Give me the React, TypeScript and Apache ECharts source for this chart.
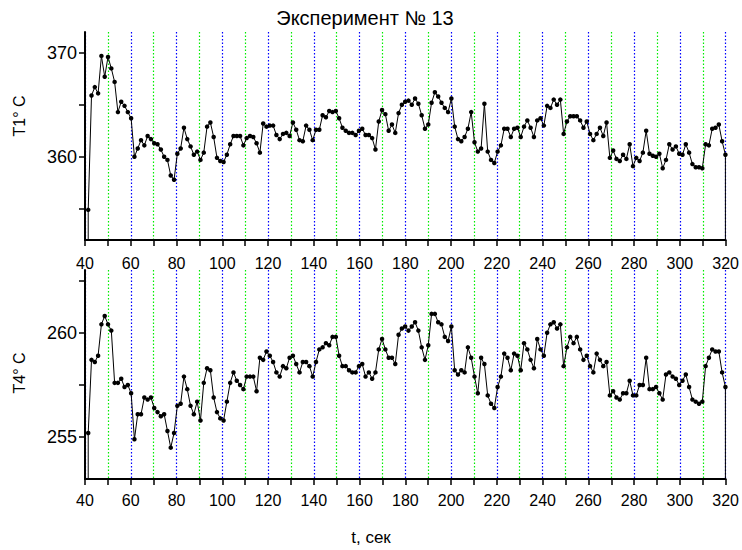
import React, { useEffect, useRef } from "react";
import * as echarts from "echarts";

// Sampling of the recorder (seconds)
const T_START = 41.4;
const T_STEP = 1.443;

// T1, °C
const T1 = [
  354.9, 365.9, 366.7, 366.1, 369.7, 367.7, 369.6, 368.5, 367.2, 364.3,
  365.3, 364.9, 364.3, 363.7, 360.0, 360.8, 361.6, 361.1, 362.0, 361.7,
  361.3, 361.2, 360.7, 360.0, 359.7, 358.2, 357.8, 360.3, 360.8, 362.8,
  361.7, 361.0, 360.2, 360.5, 359.7, 360.4, 362.9, 363.3, 361.9, 359.9,
  359.6, 359.5, 360.2, 361.2, 362.0, 362.0, 362.0, 361.1, 361.8, 362.0,
  361.9, 361.3, 360.4, 363.2, 362.9, 363.0, 363.0, 362.1, 361.7, 362.2,
  362.3, 362.0, 363.3, 362.6, 361.6,
  361.5, 363.0, 362.6, 361.6, 362.6, 362.6, 364.0, 363.8, 364.4, 364.3,
  364.4, 363.7, 362.8, 362.5, 362.3, 362.3, 362.1, 362.5, 362.7, 362.1,
  362.1, 361.8, 360.7, 363.4, 364.5, 364.1, 362.5, 363.1, 362.3, 364.2,
  365.0, 365.3, 365.4, 365.0, 365.6, 365.1, 364.0, 362.7, 363.1, 365.2,
  366.2, 365.8, 365.2, 364.7, 364.3, 365.6, 362.9, 361.7, 361.5, 361.9,
  362.7, 364.3, 361.4, 360.5, 360.8, 365.1, 360.5, 359.7, 359.4, 360.5,
  361.1, 362.7, 362.7, 361.9, 362.7,
  362.8, 361.9, 362.9, 363.5, 362.8, 361.9, 363.5, 363.7, 363.0, 364.9,
  364.7, 365.5, 365.0, 365.5, 362.2, 363.4, 363.9, 363.9, 363.9, 363.5,
  362.8, 363.4, 362.2, 361.6, 362.2, 362.8, 362.0, 363.3, 359.9, 360.6,
  359.8, 359.6, 360.2, 359.8, 361.2, 359.1, 359.9, 359.6, 360.4, 362.5,
  360.3, 360.1, 360.0, 360.3, 358.9, 359.7, 361.2, 360.7, 361.0, 360.3,
  360.2, 361.2, 360.4, 359.3, 359.0, 359.0, 358.9, 361.2, 361.1, 362.7,
  362.8, 363.1, 361.5, 360.2,
];

// T4, °C
const T4 = [
  255.2, 258.7, 258.6, 258.9, 260.4, 260.8, 260.4, 260.1, 257.6, 257.6,
  257.8, 257.4, 257.5, 257.1, 254.9, 256.1, 256.1, 256.9, 256.8, 256.9,
  256.4, 256.2, 256.0, 256.1, 255.3, 254.5, 255.2, 256.5, 256.6, 257.9,
  257.3, 256.5, 256.1, 256.7, 255.8, 257.6, 258.3, 258.2, 256.9, 256.2,
  255.9, 255.8, 256.7, 257.6, 258.1, 257.7, 257.5, 257.3, 257.9, 257.9,
  257.9, 257.2, 258.8, 258.7, 259.1, 258.9, 258.6, 258.1, 257.9, 258.4,
  258.3, 258.8, 258.9, 258.5, 258.1,
  258.6, 258.6, 258.4, 257.9, 258.6, 259.2, 259.3, 259.5, 259.4, 259.8,
  259.8, 258.9, 258.4, 258.4, 258.2, 258.1, 258.1, 258.4, 258.5, 257.9,
  258.1, 257.8, 258.1, 259.2, 259.7, 259.2, 258.8, 258.8, 258.5, 259.9,
  260.2, 260.3, 260.1, 260.3, 260.5, 260.1, 259.3, 258.7, 259.4, 260.9,
  260.9, 260.5, 260.4, 259.8, 259.6, 260.3, 258.2, 258.0, 258.2, 258.1,
  259.3, 258.8, 257.9, 257.1, 258.8, 258.5, 257.0, 256.6, 256.4, 257.4,
  257.9, 259.0, 258.8, 258.2, 259.0,
  258.9, 258.2, 259.5, 259.2, 258.7, 258.3, 259.7, 259.2, 258.9, 260.0,
  260.4, 260.5, 260.2, 260.4, 258.4, 259.3, 259.8, 259.5, 259.8, 259.2,
  258.7, 258.9, 258.4, 258.1, 259.0, 258.7, 258.4, 258.6, 257.0, 257.2,
  256.9, 256.8, 257.1, 257.1, 257.7, 257.0, 257.0, 257.5, 257.5, 258.8,
  257.3, 257.3, 257.4, 257.1, 256.8, 258.0, 258.1, 257.9, 257.8, 257.5,
  257.7, 258.0, 257.4, 256.8, 256.7, 256.6, 256.7, 258.4, 258.8, 259.2,
  259.1, 259.1, 258.1, 257.4,
];

const X_MIN = 40;
const X_MAX = 320;
const X_GRID_STEP = 10;
const X_LABEL_STEP = 20;
const T1_RANGE = [352, 372];
const T1_LABELS = [360, 370];
const T1_TICKS = [355, 360, 365, 370];
const T4_RANGE = [253, 263];
const T4_LABELS = [255, 260];
const T4_TICKS = [255, 257.5, 260, 262.5];

const TITLE = "Эксперимент № 13";
const X_NAME = "t, сек";
const Y1_NAME = "T1° C";
const Y4_NAME = "T4° C";

const FONT = "'Liberation Sans', Arial, sans-serif";

function buildSeries(values: number[], yMin: number) {
  const times = values.map((_, i) => T_START + i * T_STEP);
  const pts: any[] = values.map((v, i) => [times[i], v]);
  return [
    { value: [times[0], yMin], symbol: "none" },
    ...pts,
    { value: [times[times.length - 1], yMin], symbol: "none" },
  ];
}

function xAxis(gridIndex: number, margin: number) {
  return {
    type: "value",
    gridIndex,
    min: X_MIN,
    max: X_MAX,
    interval: X_GRID_STEP,
    axisLine: { show: true, onZero: false, lineStyle: { color: "#000", width: 2 } },
    axisTick: { show: true, length: 6, inside: false, lineStyle: { color: "#000", width: 1.5 } },
    axisLabel: {
      color: "#000",
      fontSize: 16,
      fontFamily: FONT,
      margin,
      formatter: (v: number) => (Math.round(v) % X_LABEL_STEP === 0 ? String(Math.round(v)) : ""),
    },
    splitLine: {
      show: true,
      lineStyle: { color: ["#0000ff", "#00ee00"], width: 1.2, type: [1.5, 2] },
    },
  };
}

function yAxis(gridIndex: number, range: number[], labels: number[], ticks: number[]) {
  return {
    type: "value",
    gridIndex,
    min: range[0],
    max: range[1],
    axisLine: { show: true, onZero: false, lineStyle: { color: "#000", width: 2 } },
    axisTick: { show: true, length: 6, customValues: ticks, lineStyle: { color: "#000", width: 1.5 } },
    axisLabel: { color: "#000", fontSize: 18, fontFamily: FONT, margin: 8, customValues: labels },
    splitLine: { show: false },
  };
}

export default function App() {
  const ref = useRef<HTMLDivElement>(null);
  useEffect(() => {
    if (!ref.current) return;
    const chart = echarts.init(ref.current, undefined, { renderer: "svg" });
    const lineCommon = {
      type: "line",
      symbol: "circle",
      symbolSize: 4.5,
      showSymbol: true,
      showAllSymbol: true,
      itemStyle: { color: "#000" },
      lineStyle: { color: "#000", width: 1 },
      clip: false,
      silent: true,
    };
    chart.setOption({
      animation: false,
      backgroundColor: "#fff",
      textStyle: { fontFamily: FONT },
      grid: [
        { left: 85, top: 32, width: 641, height: 208 },
        { left: 85, top: 270, width: 641, height: 209 },
      ],
      xAxis: [xAxis(0, 15), xAxis(1, 13)],
      yAxis: [
        yAxis(0, T1_RANGE, T1_LABELS, T1_TICKS),
        yAxis(1, T4_RANGE, T4_LABELS, T4_TICKS),
      ],
      series: [
        { ...lineCommon, xAxisIndex: 0, yAxisIndex: 0, data: buildSeries(T1, T1_RANGE[0]) },
        { ...lineCommon, xAxisIndex: 1, yAxisIndex: 1, data: buildSeries(T4, T4_RANGE[0]) },
      ],
      graphic: [
        {
          type: "text",
          x: 365,
          y: 18,
          style: { text: TITLE, fill: "#000", fontSize: 20, fontFamily: FONT, align: "center", verticalAlign: "middle" },
        },
        {
          type: "text",
          x: 371,
          y: 537,
          style: { text: X_NAME, fill: "#000", fontSize: 17, fontFamily: FONT, align: "center", verticalAlign: "middle" },
        },
        {
          type: "text",
          x: 19,
          y: 116,
          rotation: Math.PI / 2,
          style: { text: Y1_NAME, fill: "#000", fontSize: 16, fontFamily: FONT, align: "center", verticalAlign: "middle" },
        },
        {
          type: "text",
          x: 19,
          y: 373,
          rotation: Math.PI / 2,
          style: { text: Y4_NAME, fill: "#000", fontSize: 16, fontFamily: FONT, align: "center", verticalAlign: "middle" },
        },
      ],
    });
    return () => chart.dispose();
  }, []);
  return (
    <div
      ref={ref}
      style={{ position: "fixed", left: 0, top: 0, width: 742, height: 550, background: "#fff" }}
    />
  );
}
